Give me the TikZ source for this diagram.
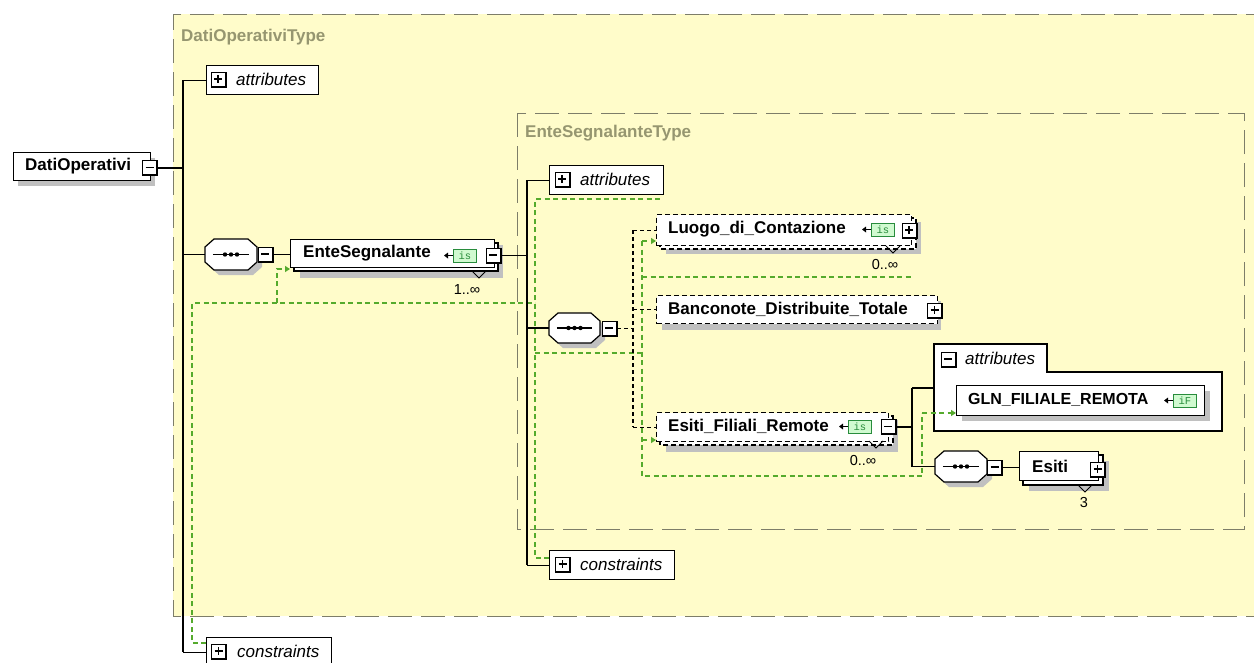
\documentclass[tikz,border=0pt]{standalone}
\usepackage{fontspec}
\setmainfont{Liberation Sans}
\setmonofont{Liberation Mono}
\usetikzlibrary{arrows.meta}

\definecolor{typefill}{RGB}{255,252,202}
\definecolor{typeline}{RGB}{125,125,105}
\definecolor{typetext}{RGB}{150,150,112}
\definecolor{keyline}{RGB}{85,170,45}
\definecolor{shadowgray}{RGB}{192,192,192}
\definecolor{iconfill}{RGB}{208,250,208}
\definecolor{iconline}{RGB}{40,140,60}

\tikzset{
  typeborder/.style={draw=typeline, line width=1pt, dash pattern=on 24pt off 9pt},
  typelabel/.style={anchor=west, text=typetext, inner sep=0, font=\fontsize{17}{19}\selectfont\bfseries},
  wire/.style={draw=black, line width=1.2pt},
  optwire/.style={draw=black, line width=1.2pt, dash pattern=on 4pt off 3pt},
  keywire/.style={draw=keyline, line width=1.3pt, dash pattern=on 5pt off 3.5pt},
  keyarrow/.style={keywire, -{Triangle[length=5pt,width=6pt]}},
  elembox/.style={draw=black, fill=white, line width=1.2pt, anchor=north west, inner sep=0},
  optbox/.style={elembox, dash pattern=on 5pt off 3pt},
  shd/.style={fill=shadowgray},
  ename/.style={anchor=west, inner sep=0, font=\fontsize{17}{19}\selectfont\bfseries},
  gname/.style={anchor=west, inner sep=0, font=\fontsize{17}{19}\selectfont\itshape},
  occurs/.style={inner sep=0, font=\fontsize{14.5}{16}\selectfont},
  pmbox/.style={draw=black, fill=white, line width=0.9pt, minimum size=15pt, inner sep=0},
  pmminus/.style={pmbox, path picture={
      \draw[line width=3pt] (path picture bounding box.north east) -- (path picture bounding box.south east) -- (path picture bounding box.south west);
      \draw[line width=1.1pt] ([xshift=3pt,yshift=0.5pt]path picture bounding box.west) -- ([xshift=-4pt,yshift=0.5pt]path picture bounding box.east);}},
  pmplus/.style={pmbox, path picture={
      \draw[line width=3pt] (path picture bounding box.north east) -- (path picture bounding box.south east) -- (path picture bounding box.south west);
      \draw[line width=1.1pt] ([xshift=3pt,yshift=0.5pt]path picture bounding box.west) -- ([xshift=-4pt,yshift=0.5pt]path picture bounding box.east);
      \draw[line width=1.1pt] ([xshift=-0.5pt,yshift=-3pt]path picture bounding box.north) -- ([xshift=-0.5pt,yshift=4pt]path picture bounding box.south);}},
  iconbox/.style={draw=iconline, fill=iconfill, line width=0.9pt, anchor=north west, minimum width=23pt, minimum height=13pt, inner sep=0, text=iconline, font=\fontsize{10.5}{10.5}\ttfamily},
}

% sequence compositor: name, left, top, right, bottom
\newcommand\seqcomp[5]{%
  \fill[shd] ({#2+9+5},{#3+5}) -- ({#4-9+5},{#3+5}) -- ({#4+5},{#3+8+5}) -- ({#4+5},{#5-8+5}) -- ({#4-9+5},{#5+5}) -- ({#2+9+5},{#5+5}) -- ({#2+5},{#5-8+5}) -- ({#2+5},{#3+8+5}) -- cycle;
  \draw[black, fill=white, line width=1.2pt] ({#2+9},#3) -- ({#4-9},#3) -- (#4,{#3+8}) -- (#4,{#5-8}) -- ({#4-9},#5) -- ({#2+9},#5) -- (#2,{#5-8}) -- (#2,{#3+8}) -- cycle;
  \path ({(#2+#4)/2},{(#3+#5)/2}) node[inner sep=0, minimum width={(#4-#2)*1pt}, minimum height={(#5-#3)*1pt}] (#1) {};
  \draw[line width=1.1pt] ([xshift=8pt]#1.west) -- ([xshift=-8pt]#1.east);
  \fill (#1.center) circle (2.2pt) ([xshift=-6pt]#1.center) circle (2.2pt) ([xshift=6pt]#1.center) circle (2.2pt);
}

% simple type icon: name, left, top, text
\newcommand\typeicon[4]{%
  \node[iconbox] (#1) at (#2,#3) {#4};
  \draw[black, line width=1pt] ({#2-5},{#3+6.5}) -- (#2,{#3+6.5});
  \fill ({#2-9},{#3+6.5}) -- ({#2-5},{#3+3.5}) -- ({#2-5},{#3+9.5}) -- cycle;
}

% occurrence marker below a repeated element
\newcommand\repmark[2]{%
  \draw[black, line width=0.8pt] ({#1-7},#2) -- (#1,{#2+7}) -- ({#1+7},#2);
}

\begin{document}
\begin{tikzpicture}[x=1pt,y=-1pt]
\useasboundingbox (0,0) rectangle (1254,662);
\fill[white] (0,0) rectangle (1254,662);

% ---- complex type areas
\fill[typefill] (173,14) rectangle (1270,616);
\draw[typeborder] (1270,14) -- (173,14) -- (173,616) -- (1270,616);
\node[typelabel] (outertype) at (181,37) {DatiOperativiType};

\fill[typefill] (517,113) rectangle (1244,529);
\draw[typeborder] (517,113) rectangle (1244,529);
\node[typelabel] (innertype) at (525,133) {EnteSegnalanteType};

% ---- junction columns
\coordinate (bar1) at (183,0);
\coordinate (bar2) at (527,0);
\coordinate (bar3) at (633,0);
\coordinate (bar4) at (912,0);

% ---- identity constraint path corners
\coordinate (k1) at (192,643);
\coordinate (k2) at (192,303);
\coordinate (k3) at (277,303);
\coordinate (k4) at (277,269);
\coordinate (k5) at (535,303);
\coordinate (k6) at (535,199);
\coordinate (k7) at (535,558);
\coordinate (k8) at (535,353);
\coordinate (k9) at (642,353);
\coordinate (k10) at (642,241);
\coordinate (k11) at (642,476);
\coordinate (k12) at (922,476);
\coordinate (k13) at (922,413);
\coordinate (k14) at (642,440);
\coordinate (k15) at (642,277);
\coordinate (k16) at (913,277);
\coordinate (k17) at (663,199);

% ---- root element
\fill[shd] (18,158) rectangle (155,186);
\node[elembox, minimum width=137pt, minimum height=28pt] (root) at (13,152) {};
\node[ename] (rootname) at (25,166) {DatiOperativi};
\node[pmminus] (rootpm) at (150,168) {};

% ---- outer attributes
\node[elembox, minimum width=112pt, minimum height=29pt] (att1) at (206,65) {};
\node[pmplus] (att1pm) at (218.5,79.5) {};
\node[gname] (att1name) at (236,79.5) {attributes};

% ---- outer sequence
\seqcomp{seq1}{205}{239}{257}{270}
\node[pmminus] (seq1pm) at (265.5,254.5) {};

% ---- EnteSegnalante (repeated)
\fill[shd] (300,245) rectangle (503,278);
\draw[black, fill=white, line width=1.2pt] (294,243) rectangle (498,271);
\node[elembox, minimum width=204pt, minimum height=28pt] (ente) at (290,239) {};
\node[ename] (entename) at (303,253) {EnteSegnalante};
\typeicon{enteicon}{453}{249}{is}
\node[pmminus] (entepm) at (493.5,255.5) {};
\repmark{479}{271}
\node[occurs] (enteocc) at (467,290) {1..∞};

% ---- inner attributes
\node[elembox, minimum width=114pt, minimum height=29pt] (att2) at (549,165) {};
\node[pmplus] (att2pm) at (562.5,179.5) {};
\node[gname] (att2name) at (580,179.5) {attributes};

% ---- inner sequence
\seqcomp{seq2}{549}{313}{600}{343}
\node[pmminus] (seq2pm) at (609.5,328.5) {};

% ---- Luogo_di_Contazione (optional, repeated)
\fill[shd] (666,222) rectangle (921,254);
\draw[black, fill=white, line width=1.2pt, dash pattern=on 5pt off 3pt] (660,218) rectangle (916,249);
\node[optbox, minimum width=255pt, minimum height=31pt] (luogo) at (656,214) {};
\node[ename] (luogoname) at (668,229.5) {Luogo\_di\_Contazione};
\typeicon{luogoicon}{871}{223}{is}
\node[pmplus] (luogopm) at (909.5,230.5) {};
\repmark{893}{246}
\node[occurs] (luogoocc) at (885,265) {0..∞};

% ---- Banconote_Distribuite_Totale (optional)
\fill[shd] (662,301) rectangle (941,330);
\node[optbox, minimum width=281pt, minimum height=28pt] (banc) at (656,295) {};
\node[ename] (bancname) at (668,309) {Banconote\_Distribuite\_Totale};
\node[pmplus] (bancpm) at (935,310.5) {};

% ---- Esiti_Filiali_Remote (optional, repeated)
\fill[shd] (666,420) rectangle (898,452);
\draw[black, fill=white, line width=1.2pt, dash pattern=on 5pt off 3pt] (660,416) rectangle (893,445);
\node[optbox, minimum width=232pt, minimum height=29pt] (efr) at (656,412) {};
\node[ename] (efrname) at (668,426.5) {Esiti\_Filiali\_Remote};
\typeicon{efricon}{848}{420}{is}
\node[pmminus] (efrpm) at (888.5,427) {};
\repmark{876}{441}
\node[occurs] (efrocc) at (863,461) {0..∞};

% ---- attribute group of Esiti_Filiali_Remote
\draw[black, fill=white, line width=1.2pt] (934,344) -- (1047,344) -- (1047,372) -- (1222,372) -- (1222,431) -- (934,431) -- cycle;
\node[inner sep=0, minimum width=288pt, minimum height=87pt, anchor=north west] (attgrp) at (934,344) {};
\node[pmminus] (attgrppm) at (948.5,359.5) {};
\node[gname] (attgrpname) at (965,358.5) {attributes};
\fill[shd] (962,391) rectangle (1210,421);
\node[elembox, minimum width=248pt, minimum height=30pt] (gln) at (956,385) {};
\node[ename, font=\fontsize{16}{18}\selectfont\bfseries] (glnname) at (968,400) {GLN\_FILIALE\_REMOTA};
\typeicon{glnicon}{1173}{394}{iF}

% ---- sequence with Esiti
\seqcomp{seq3}{935}{451}{987}{482}
\node[pmminus] (seq3pm) at (995,467.5) {};
\fill[shd] (1029,461) rectangle (1109,491);
\draw[black, fill=white, line width=1.2pt] (1023,455) rectangle (1103,485);
\node[elembox, minimum width=79pt, minimum height=29pt] (esiti) at (1019,451) {};
\node[ename] (esitiname) at (1032,466) {Esiti};
\node[pmplus] (esitipm) at (1098,469.5) {};
\repmark{1085}{485}
\node[occurs] (esitiocc) at (1084,503) {3};

% ---- constraints
\node[elembox, minimum width=125pt, minimum height=29pt] (cons2) at (549,550) {};
\node[pmplus] (cons2pm) at (563,564.5) {};
\node[gname] (cons2name) at (580,564.5) {constraints};

\node[elembox, minimum width=125pt, minimum height=29pt] (cons1) at (206,637) {};
\node[pmplus] (cons1pm) at (219,651.5) {};
\node[gname] (cons1name) at (237,651.5) {constraints};

% ---- identity constraint connectors
\draw[keywire] (cons1.west |- k1) -- (k1) -- (k2) -- (k3) -- (k5);
\draw[keyarrow] (k3) -- (k4) -- (ente.west |- k4);
\draw[keywire] (cons2.west |- k7) -- (k7) -- (k6) -- (k17);
\draw[keywire] (k8) -- (k9);
\draw[keywire] (k10) -- (k11) -- (k12) -- (k13);
\draw[keyarrow] (k10) -- (luogo.west |- k10);
\draw[keyarrow] (k14) -- (efr.west |- k14);
\draw[keyarrow] (k13) -- (gln.west |- k13);
\draw[keywire] (k15) -- (k16);

% ---- content model connectors
\draw[wire] (rootpm.east) -- (rootpm.east -| bar1);
\draw[wire] (att1.west -| bar1) -- (cons1.west -| bar1);
\draw[wire] (att1.west -| bar1) -- (att1.west);
\draw[wire] (seq1.west -| bar1) -- (seq1.west);
\draw[wire] (cons1.west -| bar1) -- (cons1.west);
\draw[wire] (seq1pm.east) -- (ente.west |- seq1pm.east);

\draw[wire] (entepm.east) -- (entepm.east -| bar2);
\draw[wire] (att2.west -| bar2) -- (cons2.west -| bar2);
\draw[wire] (att2.west -| bar2) -- (att2.west);
\draw[wire] (seq2.west -| bar2) -- (seq2.west);
\draw[wire] (cons2.west -| bar2) -- (cons2.west);

\draw[optwire] (seq2pm.east) -- (seq2pm.east -| bar3);
\draw[optwire] (luogo.west -| bar3) -- (efr.west -| bar3);
\draw[optwire] (luogo.west -| bar3) -- (luogo.west);
\draw[optwire] (banc.west -| bar3) -- (banc.west);
\draw[optwire] (efr.west -| bar3) -- (efr.west);

\draw[wire] (efrpm.east) -- (efrpm.east -| bar4);
\coordinate (grpin) at (934,388);
\draw[wire] (grpin -| bar4) -- (seq3.west -| bar4);
\draw[wire] (grpin -| bar4) -- (grpin);
\draw[wire] (seq3.west -| bar4) -- (seq3.west);
\draw[wire] (seq3pm.east) -- (esiti.west |- seq3pm.east);
\end{tikzpicture}
\end{document}
